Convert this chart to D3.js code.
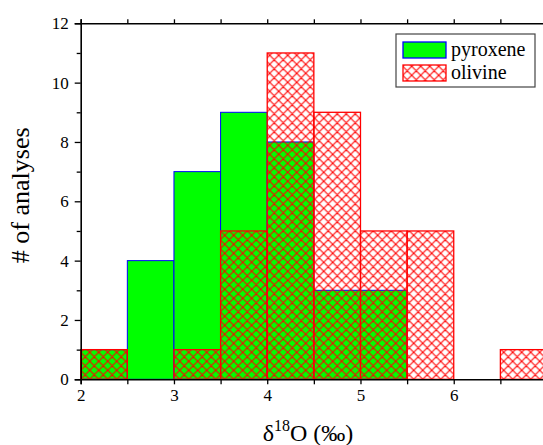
<!DOCTYPE html>
<html>
<head>
<meta charset="utf-8">
<script src="https://cdn.jsdelivr.net/npm/d3@7"></script>
<style>
  html, body { margin: 0; padding: 0; background: #fff; overflow: hidden; }
  svg text { font-family: 'Liberation Serif', 'Times New Roman', 'DejaVu Serif', serif !important; }
</style>
</head>
<body>
<div id="chart"></div>
<script>
// bin left edges, bin width 0.5 permil
const binStarts = [2, 2.5, 3, 3.5, 4, 4.5, 5, 5.5, 6, 6.5];
const binWidth = 0.5;
const pyroxeneCounts = [1, 4, 7, 9, 8, 3, 3, 0, 0, 0];
const olivineCounts = [1, 0, 1, 5, 11, 9, 5, 5, 0, 1];
const xTickValues = [2, 2.5, 3, 3.5, 4, 4.5, 5, 5.5, 6, 6.5, 7];
const yTickValues = [0, 1, 2, 3, 4, 5, 6, 7, 8, 9, 10, 11, 12];
const legendLabels = ['pyroxene', 'olivine'];

const FONT = "'Liberation Serif', 'Times New Roman', 'DejaVu Serif', serif";
const width = 543;
const height = 445;
const plot = { left: 80.7, right: 547, top: 23.3, bottom: 379.3 };

const svg = d3.select('#chart').append('svg')
  .attr('width', width)
  .attr('height', height)
  .attr('font-family', FONT)
  .style('display', 'block');

// crosshatch used for olivine
const pattern = svg.append('defs').append('pattern')
  .attr('id', 'hatch')
  .attr('patternUnits', 'userSpaceOnUse')
  .attr('x', plot.left)
  .attr('y', plot.bottom)
  .attr('width', 9)
  .attr('height', 9);
pattern.append('path')
  .attr('d', 'M0,0L9,9M9,0L0,9M-1,8L1,10M8,-1L10,1')
  .attr('stroke', '#ff0000')
  .attr('stroke-width', 1.1)
  .attr('fill', 'none');

const x = d3.scaleLinear().domain([2, 7]).range([plot.left, plot.right]);
const y = d3.scaleLinear().domain([0, 12]).range([plot.bottom, plot.top]);

const bins = binStarts.map((b, i) => ({ x0: b, x1: b + binWidth, pyr: pyroxeneCounts[i], oli: olivineCounts[i] }));

svg.append('g').attr('class', 'pyroxene')
  .selectAll('rect')
  .data(bins.filter(d => d.pyr > 0))
  .join('rect')
  .attr('x', d => x(d.x0))
  .attr('y', d => y(d.pyr))
  .attr('width', d => x(d.x1) - x(d.x0))
  .attr('height', d => y(0) - y(d.pyr))
  .attr('fill', '#00ff00')
  .attr('stroke', '#0000ff')
  .attr('stroke-width', 1);

svg.append('g').attr('class', 'olivine')
  .selectAll('rect')
  .data(bins.filter(d => d.oli > 0))
  .join('rect')
  .attr('x', d => x(d.x0))
  .attr('y', d => y(d.oli))
  .attr('width', d => x(d.x1) - x(d.x0))
  .attr('height', d => y(0) - y(d.oli))
  .attr('fill', 'url(#hatch)')
  .attr('stroke', '#ff0000')
  .attr('stroke-width', 1.3);

// axes
const axisBottom = svg.append('g')
  .attr('transform', `translate(0, ${plot.bottom})`)
  .call(d3.axisBottom(x).tickValues(xTickValues).tickSize(5).tickPadding(5)
    .tickFormat(d => Number.isInteger(d) ? d : ''));

const axisTop = svg.append('g')
  .attr('transform', `translate(0, ${plot.top})`)
  .call(d3.axisTop(x).tickValues(xTickValues).tickSize(4).tickFormat(''));

const axisLeft = svg.append('g')
  .attr('transform', `translate(${plot.left}, 0)`)
  .call(d3.axisLeft(y).tickValues(yTickValues).tickSize(6).tickPadding(6)
    .tickFormat(d => d % 2 === 0 ? d : ''));

axisLeft.selectAll('.tick')
  .filter(d => d % 2 !== 0)
  .select('line').attr('x2', -4);

[axisBottom, axisTop, axisLeft].forEach(a => {
  a.attr('font-family', FONT).attr('font-size', 17);
  a.select('.domain').attr('stroke', '#000').attr('stroke-width', 1.6);
  a.selectAll('.tick line').attr('stroke', '#000').attr('stroke-width', 1.3);
  a.selectAll('.tick text').attr('fill', '#000').style('font-size', '17px');
});

// axis titles
const xTitle = svg.append('text')
  .attr('x', 308)
  .attr('y', 441)
  .attr('text-anchor', 'middle')
  .attr('font-size', 24);
xTitle.append('tspan').text('δ');
xTitle.append('tspan').attr('dy', -10).attr('font-size', 16).text('18');
xTitle.append('tspan').attr('dy', 10).text('O (‰)');

svg.append('text')
  .attr('transform', `translate(29, ${(plot.top + plot.bottom) / 2 - 6}) rotate(-90)`)
  .attr('text-anchor', 'middle')
  .attr('font-size', 26)
  .text('# of analyses');

// legend
const legend = svg.append('g').attr('transform', 'translate(396, 34)');
legend.append('rect')
  .attr('width', 139)
  .attr('height', 53)
  .attr('fill', '#fff')
  .attr('stroke', '#444')
  .attr('stroke-width', 1.2);

const legendStyles = [
  { fill: '#00ff00', stroke: '#0000ff' },
  { fill: 'url(#hatch)', stroke: '#ff0000' }
];

legendLabels.forEach((label, i) => {
  const row = legend.append('g').attr('transform', `translate(7, ${8 + i * 23})`);
  row.append('rect')
    .attr('width', 43)
    .attr('height', 16)
    .attr('fill', legendStyles[i].fill)
    .attr('stroke', legendStyles[i].stroke)
    .attr('stroke-width', 1.3);
  row.append('text')
    .attr('x', 48)
    .attr('y', 14)
    .attr('font-size', 20)
    .text(label);
});
</script>
</body>
</html>
